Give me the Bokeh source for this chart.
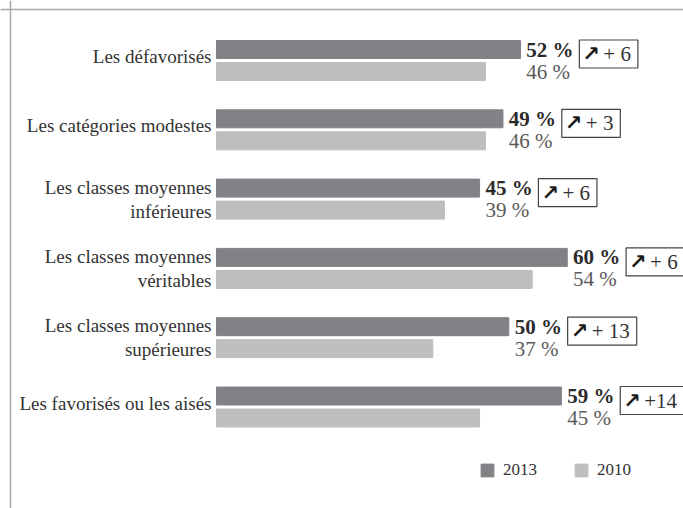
from bokeh.plotting import figure
from bokeh.models import Range1d, Span, Legend, LegendItem, ColumnDataSource
from bokeh.core.properties import value
from bokeh.embed import file_html
from bokeh.resources import INLINE

categories = ["Les défavorisés", "Les catégories modestes",
              "Les classes moyennes\ninférieures", "Les classes moyennes\nvéritables",
              "Les classes moyennes\nsupérieures", "Les favorisés ou les aisés"]
v2013 = [52, 49, 45, 60, 50, 59]
v2010 = [46, 46, 39, 54, 37, 45]
changes = ["+ 6", "+ 3", "+ 6", "+ 6", "+ 13", "+14"]
series = ["2013", "2010"]

DARK = "#808285"
LIGHT = "#bcbec0"
SERIF = "Liberation Serif"

W, H = 683, 508
PXU = 5.846      # pixels per percentage point
X0 = 216         # pixel position of 0 %
ROWPX = 69.3     # pixels per category row
Y0 = 60          # pixel position of first row centre

def px_x(p):
    return p / PXU

def px_y(p):
    return p / ROWPX

rows = list(range(len(categories)))

p = figure(width=W, height=H, output_backend="svg", toolbar_location=None,
           x_range=Range1d(-X0 / PXU, (W - X0) / PXU),
           y_range=Range1d((H - Y0) / ROWPX, -Y0 / ROWPX),
           min_border=0, outline_line_color=None)
p.axis.visible = False
p.grid.visible = False
p.background_fill_color = "white"
p.border_fill_color = "white"

off = px_y(11)
bh = px_y(18)
GAP = 53
lab_x = [v + 1.0 for v in v2013]


def box_width(c):
    digits = sum(ch.isdigit() for ch in c)
    return 31 + 11.8 + 10.5 * digits + (5.25 if " " in c else 0)


box_w = [box_width(c) for c in changes]
src = ColumnDataSource(dict(
    y13=[r - off for r in rows], y10=[r + off for r in rows],
    v13=v2013, v10=v2010,
    lab13=[f"{v} %" for v in v2013], lab10=[f"{v} %" for v in v2010],
    lx=lab_x,
    boxx=[x + px_x(GAP + w / 2) for x, w in zip(lab_x, box_w)],
    boxw=box_w,
    arrx=[x + px_x(GAP + 3) for x in lab_x],
    chx=[x + px_x(GAP + 24) for x in lab_x],
    boxy=[r - px_y(6.5) for r in rows],
    chg=changes, arr=["↗"] * len(rows),
))

r13 = p.hbar(y="y13", left=0, right="v13", height=bh, color=DARK, source=src)
r10 = p.hbar(y="y10", left=0, right="v10", height=bh, color=LIGHT, source=src)

# category labels
cat_y = [r if "\n" in c else r - px_y(4) for r, c in zip(rows, categories)]
p.text(x=[-px_x(5)] * len(rows), y=cat_y, text=categories,
       text_align="right", text_baseline="middle", text_font=value(SERIF),
       text_font_size="19px", text_color="#333333", text_line_height=1.15)

# value labels
p.text(x="lx", y="y13", text="lab13", source=src, text_align="left",
       text_baseline="middle", text_font=value(SERIF), text_font_size="21px",
       text_font_style="bold", text_color="#2b2b2b")
p.text(x="lx", y="y10", text="lab10", source=src, text_align="left",
       text_baseline="middle", text_font=value(SERIF), text_font_size="21px",
       text_color="#5a5a5a")

# change boxes
p.rect(x="boxx", y="boxy", width="boxw", height=28, width_units="screen",
       height_units="screen", fill_alpha=0, line_color="#444444", line_width=1.2,
       source=src)
p.text(x="arrx", y="boxy", text="arr", source=src, text_align="left",
       text_baseline="middle", text_font=value("DejaVu Sans"), text_font_size="21px",
       text_font_style="bold", text_color="#1a1a1a")
p.text(x="chx", y="boxy", text="chg", source=src, text_align="left",
       text_baseline="middle", text_font=value(SERIF), text_font_size="21px",
       text_color="#333333")

# frame lines (top and left)
p.add_layout(Span(location=-Y0 / ROWPX + px_y(9), dimension="width",
                  line_color="#a8a8a8", line_width=1.5))
p.add_layout(Span(location=-X0 / PXU + px_x(10), dimension="height",
                  line_color="#a8a8a8", line_width=1.5))

legend = Legend(items=[LegendItem(label=series[0], renderers=[r13]),
                       LegendItem(label=series[1], renderers=[r10])],
                location=(479, 28), orientation="horizontal",
                glyph_width=16, glyph_height=16, label_height=16,
                label_standoff=8, spacing=36, padding=0, margin=0,
                border_line_alpha=0, background_fill_alpha=0,
                label_text_font=SERIF, label_text_font_size="17px",
                label_text_color="#333333")
p.add_layout(legend, "center")

open("out.html", "w").write(file_html(p, INLINE))
